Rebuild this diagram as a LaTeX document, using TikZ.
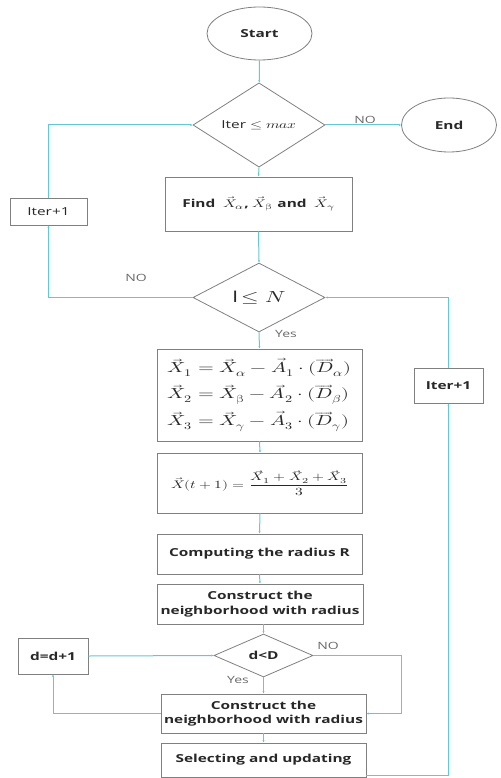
\documentclass[tikz,border=0pt]{standalone}
\usepackage{amsmath}
\usepackage{fontspec}
\usepackage{unicode-math}
\setmainfont{Open Sans}
\setmathfont{Latin Modern Math}
\usepackage{graphicx}
\usetikzlibrary{shapes.geometric,arrows.meta}

\definecolor{flowc}{RGB}{100,200,210}
\definecolor{edgec}{RGB}{128,128,128}
\definecolor{inkc}{RGB}{40,40,40}
\definecolor{lblc}{RGB}{105,105,105}

% horizontally widened text
\newcommand\hstr[1]{\scalebox{1.4}[1]{#1}}
\newcommand\twoline[2]{\hstr{\begin{tabular}{@{}c@{}}#1\\#2\end{tabular}}}

\begin{document}
\begin{tikzpicture}[x=1pt,y=-1pt,
  every node/.style={inner sep=0pt, text=inkc},
  stepbox/.style={draw=edgec, line width=0.8pt, fill=white, align=center,
    font=\fontsize{11}{14.5}\selectfont\bfseries},
  terminal/.style={ellipse, draw=edgec, line width=0.8pt, fill=white,
    font=\fontsize{11}{14}\selectfont\bfseries},
  cond/.style={diamond, draw=edgec, line width=0.8pt, fill=white,
    font=\fontsize{11}{14}\selectfont},
  lbl/.style={text=lblc, font=\fontsize{10}{12}\selectfont},
  flow/.style={draw=flowc, line width=1pt, -{Latex[length=2.2pt,width=2.2pt]}}
]
\useasboundingbox (0,0) rectangle (500,778);

% main column
\node[terminal, minimum width=105, minimum height=53] (start) at (259.5,33.5) {\hstr{Start}};
\node[cond, minimum width=132, minimum height=70] (c1) at (259,125) {\hstr{Iter $\leq$ $max$}};
\node[terminal, minimum width=95, minimum height=54] (end) at (449,125) {\hstr{End}};
\node[stepbox, minimum width=187, minimum height=54] (find) at (258.5,204)
  {\hstr{Find\enspace $\vec{X}_{\alpha}$, $\vec{X}_{\upbeta}$ and\enspace $\vec{X}_{\gamma}$}};
\node[cond, minimum width=132, minimum height=69] (c2) at (259,297.5)
  {\fontsize{16}{18}\selectfont\hstr{I\,$\leq N$}};
\node[stepbox, minimum width=205, minimum height=92] (eqs) at (259.5,395)
  {\fontsize{14.5}{17}\selectfont\hstr{$\begin{aligned}
    \vec{X}_1 &= \vec{X}_{\alpha} - \vec{A}_1\cdot(\overrightarrow{D}_{\alpha})\\[3pt]
    \vec{X}_2 &= \vec{X}_{\upbeta} - \vec{A}_2\cdot(\overrightarrow{D}_{\beta})\\[3pt]
    \vec{X}_3 &= \vec{X}_{\gamma} - \vec{A}_3\cdot(\overrightarrow{D}_{\gamma})
  \end{aligned}$}};
\node[stepbox, minimum width=205, minimum height=60] (avg) at (260,483)
  {\fontsize{11}{13}\selectfont\hstr{$\vec{X}(t+1)=\dfrac{\vec{X}_1+\vec{X}_2+\vec{X}_3}{3}$}};
\node[stepbox, minimum width=205, minimum height=40] (rad) at (259.5,554)
  {\hstr{Computing the radius R}};
\node[stepbox, minimum width=206, minimum height=40] (nb1) at (260,604)
  {\twoline{Construct the}{neighborhood with radius}};
\node[cond, minimum width=99, minimum height=43, font=\fontsize{11}{14}\selectfont\bfseries]
  (c3) at (263.5,655.5) {\hstr{d<D}};
\node[stepbox, minimum width=205, minimum height=39] (nb2) at (263.5,713.5)
  {\twoline{Construct the}{neighborhood with radius}};
\node[stepbox, minimum width=205, minimum height=34] (sel) at (263.5,760)
  {\hstr{Selecting and updating}};

% side boxes
\node[stepbox, font=\fontsize{11}{14}\selectfont, minimum width=77, minimum height=27]
  (it1) at (48.5,211.5) {\hstr{Iter+1}};
\node[stepbox, minimum width=69, minimum height=35] (it2) at (448.5,385.5) {\hstr{Iter+1}};
\node[stepbox, minimum width=70, minimum height=36] (dd) at (53,656) {\hstr{d=d+1}};

% branch labels
\node[lbl] (no1) at (365,120) {\hstr{NO}};
\node[lbl] (no2) at (136,278) {\hstr{NO}};
\node[lbl] (yes1) at (286,334) {\hstr{Yes}};
\node[lbl] (no3) at (328,646) {\hstr{NO}};
\node[lbl] (yes2) at (238,680) {\hstr{Yes}};

% connectors
\draw[flow] (start) -- (c1);
\draw[flow] (c1.east) -- (end.west);
\draw[flow] (c1.south) -- (find.north);
\draw[flow] (find.south) -- (c2.north);
\draw[flow] (c2.west) -| (it1.south);
\draw[flow] (it1.north) |- (c1.west);
\draw[flow] (c2.south) -- (eqs.north);
\draw[flow] (eqs.south) -- (avg.north);
\draw[flow] (avg.south) -- (rad.north);
\draw[flow] (rad.south) -- (nb1.north);
\draw[flow] (c3.north |- nb1.south) -- (c3.north);
\draw[flow] (c3.south) -- (nb2.north);
\draw[flow] (c3.east) -- ++(88,0) |- (nb2.east);
\draw[flow] (nb2.west) -| (dd.south);
\draw[flow] (dd.east) -- (c3.west);
\draw[flow] (nb2.south) -- (sel.north);
\draw[flow] ([yshift=-15pt]sel.east) -| (it2.south);
\draw[flow] (it2.north) |- (c2.east);
\end{tikzpicture}
\end{document}
